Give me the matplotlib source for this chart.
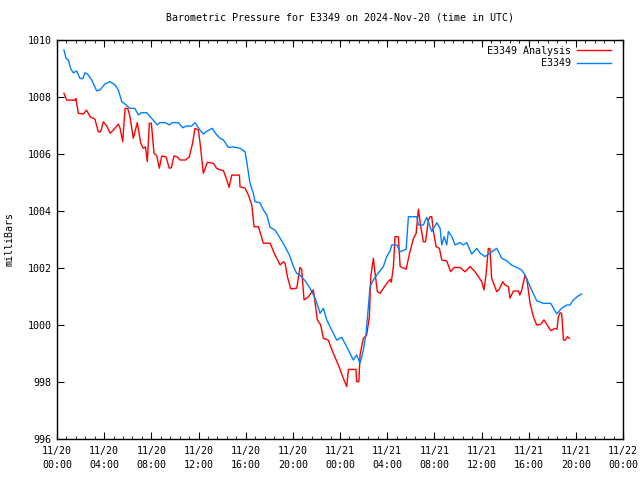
import matplotlib
matplotlib.use("Agg")
import matplotlib.pyplot as plt
from matplotlib.ticker import MultipleLocator

# hours since 2024-11-20 00:00 UTC, pressure in mbar
obs_h = [0.59, 0.76, 0.96, 1.16, 1.38, 1.67, 1.95, 2.2, 2.37, 2.6, 2.94, 3.36, 3.65, 4.07, 4.5, 4.92, 5.2,
         5.49, 5.77, 6.19, 6.6, 6.9, 7.18, 7.6, 8.03, 8.51, 8.73, 9.2, 9.52, 9.8, 10.29, 10.66, 10.95,
         11.42, 11.7, 12.07, 12.41, 12.7, 13.17, 13.49, 13.83, 14.1, 14.53, 14.9, 15.52, 15.95, 16.09,
         16.37, 16.65, 16.79, 17.22, 17.5, 17.79, 18.07, 18.49, 18.92, 19.34, 19.7, 20.05, 20.33, 20.61,
         21.04, 21.46, 21.88, 22.17, 22.31, 22.59, 22.87, 23.3, 23.72, 24.14, 24.57, 25.13, 25.41, 25.7,
         25.98, 26.21, 26.4, 26.55, 26.83, 27.11, 27.4, 27.68, 27.96, 28.25, 28.39, 28.82, 29.1, 29.61,
         29.8, 30.51, 30.65, 31.07, 31.36, 31.64, 31.78, 32.21, 32.49, 32.63, 32.83, 33.05, 33.19, 33.48,
         33.76, 34.18, 34.45, 34.75, 35.17, 35.6, 35.88, 36.3, 36.72, 37.29, 37.72, 38.14, 38.56, 38.99,
         39.41, 39.69, 40.12, 40.68, 41.25, 41.87, 42.38, 42.8, 43.23, 43.5, 43.79, 44.21, 44.5]
obs_p = [1009.65, 1009.36, 1009.3, 1009.0, 1008.85, 1008.91, 1008.65, 1008.65, 1008.85, 1008.8, 1008.6,
         1008.22, 1008.25, 1008.46, 1008.54, 1008.42, 1008.25, 1007.84, 1007.75, 1007.6, 1007.6, 1007.37,
         1007.45, 1007.45, 1007.25, 1007.02, 1007.1, 1007.1, 1007.02, 1007.1, 1007.1, 1006.92, 1006.98,
         1006.98, 1007.1, 1006.87, 1006.7, 1006.8, 1006.9, 1006.7, 1006.55, 1006.5, 1006.23, 1006.25,
         1006.2, 1006.08, 1005.73, 1004.97, 1004.62, 1004.33, 1004.29, 1004.04, 1003.86, 1003.43, 1003.33,
         1003.05, 1002.75, 1002.46, 1002.05, 1001.81, 1001.75, 1001.55, 1001.29, 1000.95, 1000.6, 1000.41,
         1000.59, 1000.18, 999.82, 999.47, 999.57, 999.24, 998.77, 998.95, 998.66, 999.12, 999.7, 1000.64,
         1001.35, 1001.58, 1001.75, 1001.9, 1002.05, 1002.4, 1002.6, 1002.81, 1002.81, 1002.57, 1002.66,
         1003.8, 1003.8, 1003.51, 1003.51, 1003.78, 1003.45, 1003.28, 1003.59, 1003.39, 1002.81, 1003.1,
         1002.81, 1003.28, 1003.1, 1002.81, 1002.89, 1002.81, 1002.89, 1002.49, 1002.69, 1002.52, 1002.4,
         1002.52, 1002.69, 1002.34, 1002.25, 1002.1, 1002.02, 1001.93, 1001.75, 1001.35, 1000.85, 1000.76,
         1000.76, 1000.39, 1000.59, 1000.7, 1000.7, 1000.88, 1001.02, 1001.09]

ana_h = [0.59, 0.82, 1.53, 1.6, 1.81, 2.23, 2.51, 2.8, 3.22, 3.5, 3.7, 3.93, 4.2, 4.5, 4.8, 5.2, 5.35, 5.57,
         5.77, 6.0, 6.19, 6.47, 6.81, 7.1, 7.32, 7.5, 7.66, 7.83, 8.0, 8.23, 8.45, 8.68, 8.88, 9.25, 9.52,
         9.7, 9.92, 10.2, 10.43, 10.9, 11.22, 11.5, 11.7, 11.99, 12.13, 12.41, 12.75, 13.26, 13.54, 13.83,
         14.11, 14.4, 14.59, 14.82, 15.47, 15.52, 15.95, 16.23, 16.52, 16.71, 17.08, 17.5, 18.07, 18.49,
         18.92, 19.2, 19.35, 19.54, 19.82, 20.33, 20.61, 20.75, 20.95, 21.32, 21.74, 21.97, 22.08, 22.36,
         22.59, 23.01, 23.21, 23.49, 23.86, 24.28, 24.57, 24.71, 25.36, 25.41, 25.6, 25.7, 25.98, 26.26,
         26.49, 26.61, 26.83, 26.95, 27.17, 27.4, 27.96, 28.25, 28.35, 28.53, 28.67, 28.95, 29.1, 29.61,
         29.9, 30.23, 30.46, 30.65, 30.85, 31.07, 31.25, 31.5, 31.64, 31.78, 31.92, 32.15, 32.43, 32.63,
         33.05, 33.39, 33.67, 34.18, 34.6, 35.03, 35.45, 35.73, 36.02, 36.21, 36.38, 36.58, 36.72, 36.86,
         37.29, 37.5, 37.8, 38.0, 38.28, 38.42, 38.7, 39.13, 39.25, 39.41, 39.69, 39.85, 40.12, 40.4, 40.68,
         41.0, 41.3, 41.5, 41.87, 42.24, 42.4, 42.52, 42.66, 42.8, 42.95, 43.1, 43.29, 43.46]
ana_p = [1008.13, 1007.89, 1007.89, 1007.95, 1007.43, 1007.4, 1007.54, 1007.31, 1007.22, 1006.78, 1006.78,
         1007.13, 1007.0, 1006.73, 1006.85, 1007.05, 1006.9, 1006.43, 1007.6, 1007.6, 1007.31, 1006.55,
         1007.1, 1006.38, 1006.2, 1006.25, 1005.73, 1007.08, 1007.08, 1006.02, 1005.95, 1005.5, 1005.93,
         1005.9, 1005.5, 1005.52, 1005.93, 1005.9, 1005.79, 1005.79, 1005.9, 1006.38, 1006.9, 1006.84,
         1006.4, 1005.32, 1005.71, 1005.67, 1005.5, 1005.44, 1005.42, 1005.09, 1004.83, 1005.26, 1005.26,
         1004.85, 1004.8, 1004.56, 1004.21, 1003.45, 1003.45, 1002.87, 1002.87, 1002.46, 1002.11, 1002.22,
         1002.15, 1001.7, 1001.27, 1001.29, 1002.02, 1001.95, 1000.88, 1000.99, 1001.23, 1000.53, 1000.18,
         1000.0, 999.53, 999.47, 999.24, 998.95, 998.6, 998.13, 997.84, 998.44, 998.44, 998.01, 998.01,
         998.95, 999.53, 999.65, 1000.29, 1001.7, 1002.34, 1001.9, 1001.17, 1001.11, 1001.46, 1001.6,
         1001.5, 1002.05, 1003.1, 1003.1, 1002.05, 1001.96, 1002.52, 1003.04, 1003.22, 1004.06, 1003.45,
         1002.92, 1002.92, 1003.68, 1003.8, 1003.8, 1003.28, 1002.75, 1002.69, 1002.28, 1002.25, 1001.87,
         1002.02, 1002.02, 1001.87, 1002.05, 1001.87, 1001.7, 1001.52, 1001.23, 1001.75, 1002.69, 1002.67,
         1001.64, 1001.17, 1001.25, 1001.52, 1001.4, 1001.35, 1000.94, 1001.19, 1001.19, 1001.05, 1001.23,
         1001.75, 1001.6, 1000.76, 1000.29, 1000.0, 1000.02, 1000.18, 1000.05, 999.8, 999.88, 999.85,
         1000.29, 1000.43, 1000.4, 999.47, 999.47, 999.59, 999.53]

xtick_h = [0, 4, 8, 12, 16, 20, 24, 28, 32, 36, 40, 44, 48]
xtick_labels = ["11/20\n00:00", "11/20\n04:00", "11/20\n08:00", "11/20\n12:00", "11/20\n16:00",
                "11/20\n20:00", "11/21\n00:00", "11/21\n04:00", "11/21\n08:00", "11/21\n12:00",
                "11/21\n16:00", "11/21\n20:00", "11/22\n00:00"]
ytick_vals = [996, 998, 1000, 1002, 1004, 1006, 1008, 1010]

plt.rcParams['font.family'] = 'DejaVu Sans Mono'
plt.rcParams['font.size'] = 7.2

fig = plt.figure(figsize=(6.4, 4.8), dpi=100)
ax = fig.add_axes([57/640, 41/480, 566/640, 399/480])

ax.plot(ana_h, ana_p, color='#ff0000', lw=1.0, label='E3349 Analysis')
ax.plot(obs_h, obs_p, color='#0080ff', lw=1.0, label='E3349')

ax.set_xlim(0, 48)
ax.set_ylim(996, 1010)
ax.set_xticks(xtick_h)
ax.set_xticklabels(xtick_labels, linespacing=1.45)
ax.xaxis.set_minor_locator(MultipleLocator(0.8))
ax.set_yticks(ytick_vals)
ax.tick_params(which='both', direction='in', top=True, right=True, color='black')
ax.tick_params(which='major', length=5)
ax.tick_params(axis='x', which='major', pad=5)
ax.tick_params(axis='y', which='major', pad=4)
ax.tick_params(which='minor', length=2.5)
for s in ax.spines.values():
    s.set_linewidth(1.0)

ax.set_ylabel('milliBars', labelpad=9)
ax.set_title('Barometric Pressure for E3349 on 2024-Nov-20 (time in UTC)', fontsize=7.2, pad=14)
ax.legend(loc='upper right', bbox_to_anchor=(1 - 6/566, 1), frameon=False, markerfirst=False,
          handlelength=3.4, borderaxespad=0.2, labelspacing=0.25, handletextpad=0.6)

fig.savefig('out.png', dpi=100)
